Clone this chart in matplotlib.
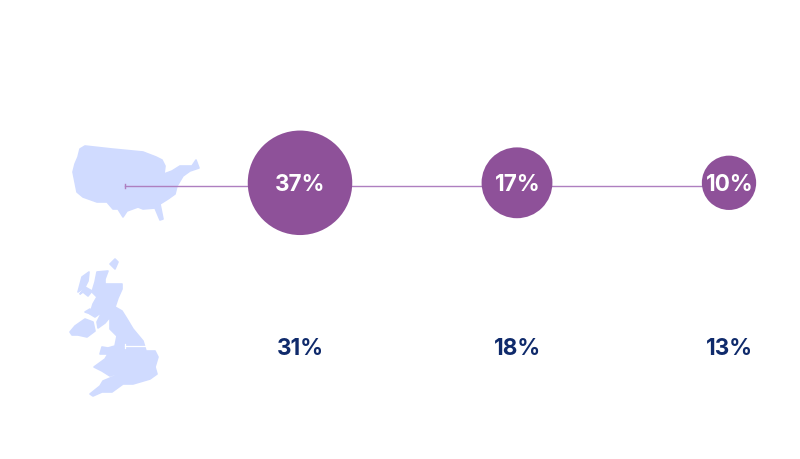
import matplotlib
matplotlib.use("Agg")
import matplotlib.pyplot as plt
from matplotlib.patches import Polygon

countries = ["US", "UK"]
us_values = [37, 17, 10]
uk_values = [31, 18, 13]

# layout, in pixels of the 800x460 picture
col_x = [300, 517, 729]
bubble_y = 183.8
text_y = 183
line_y = 186.5
uk_y = 346.5
purple = "#8e5199"
navy = "#0f2a6b"
map_blue = "#d0dbff"
font = "Inter"

# map outlines
us_shape = [(85, 147), (112, 150), (143, 153), (156, 158), (162, 161), (165, 167), (164, 175),
            (172, 172), (180, 167), (192, 167), (196, 161), (199, 169), (190, 172), (183, 177),
            (177, 187), (175, 195), (168, 200), (160, 205), (163, 220), (160, 221), (155, 209),
            (143, 210), (138, 208), (127, 212), (123, 218), (118, 210), (113, 210), (107, 203),
            (97, 203), (83, 198), (77, 193), (75, 183), (73, 173), (75, 165), (78, 158), (80, 150)]
gb_shape = [(97, 273), (108, 272), (105, 280), (105, 285), (122, 285), (122, 290), (118, 299),
            (115, 308), (122, 312), (127, 320), (133, 330), (143, 342), (146, 352), (155, 352),
            (158, 358), (155, 368), (157, 375), (150, 380), (133, 385), (123, 385), (112, 393),
            (102, 393), (93, 397), (90, 395), (100, 387), (103, 382), (115, 377), (118, 374),
            (110, 377), (102, 372), (94, 368), (105, 360), (108, 355), (100, 355), (102, 348),
            (108, 349), (115, 347), (117, 337), (110, 330), (110, 318), (105, 324), (98, 329),
            (97, 323), (102, 313), (95, 318), (90, 315), (93, 305), (97, 298), (92, 293), (95, 283)]
ni_shape = [(70, 333), (75, 327), (85, 320), (93, 323), (95, 332), (87, 338), (78, 336), (72, 336)]
hebrides = [(78, 293), (82, 278), (89, 273), (88, 282), (85, 288)]
skye = [(92, 292), (88, 297), (83, 293), (80, 295), (85, 288)]
islay = [(85, 313), (90, 310), (91, 315)]
orkney = [(110, 265), (115, 260), (118, 263), (115, 270)]

fig, ax = plt.subplots(figsize=(8, 4.6), dpi=100)
ax.set_position([0, 0, 1, 1])
ax.set_xlim(0, 800)
ax.set_ylim(460, 0)
ax.axis("off")

for shape in [us_shape, gb_shape, ni_shape, hebrides, skye, islay, orkney]:
    ax.add_patch(Polygon(shape, closed=True, facecolor=map_blue, edgecolor=map_blue, lw=1.2,
                         joinstyle="round", zorder=1))

# connector lines start in the middle of each map
ax.plot([125, col_x[-1]], [line_y, line_y], color="#ae7fc0", lw=1.0, zorder=2)
ax.plot([125, 125], [line_y - 2, line_y + 2], color="#ae7fc0", lw=1.0, zorder=2)
ax.plot([125, 145], [uk_y, uk_y], color="white", lw=0.9, zorder=2)
ax.plot([125, 125], [uk_y - 2, uk_y + 2], color="white", lw=0.9, zorder=2)

# bubble area follows the value
ax.scatter(col_x, [bubble_y] * 3, s=[v * 153 for v in us_values], color=purple, linewidths=0, zorder=3)

for x, v in zip(col_x, us_values):
    ax.text(x + 0.5, text_y, f"{v}%", color="white", fontsize=16.2, family=font, fontweight="bold",
            ha="center", va="center_baseline", zorder=4)
for x, v in zip(col_x, uk_values):
    ax.text(x + 0.5, uk_y, f"{v}%", color=navy, fontsize=16.2, family=font, fontweight="bold",
            ha="center", va="center_baseline", zorder=4)

fig.savefig("out.png", dpi=100, facecolor="white")
